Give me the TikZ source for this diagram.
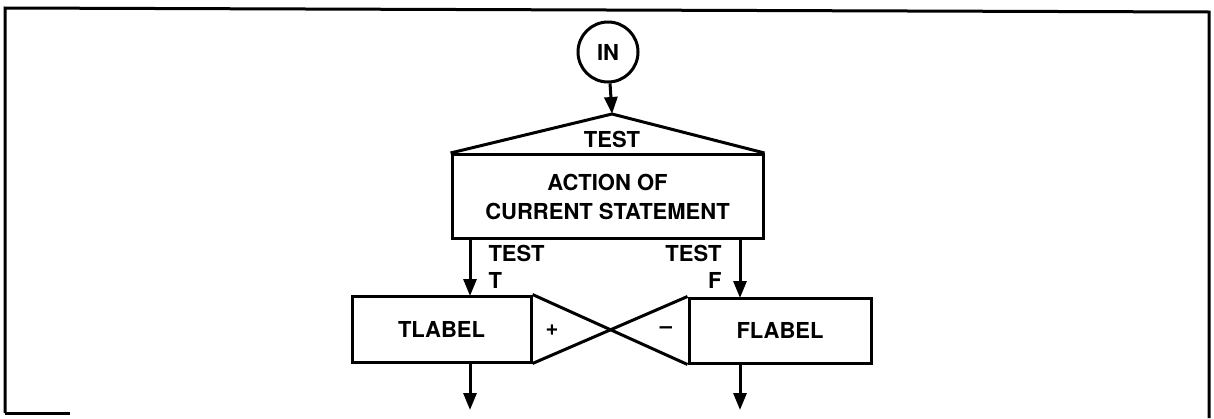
\documentclass[tikz,border=0pt]{standalone}
\usepackage{fontspec}
\setmainfont{TeX Gyre Heros}
\usetikzlibrary{arrows.meta}

\tikzset{
  lbl/.style={inner sep=0pt, font=\bfseries\fontsize{22}{29}\selectfont},
  box/.style={lbl, draw, rectangle, align=center},
  flow/.style={-{Triangle[length=17pt,width=13pt]}}
}

\begin{document}
\begin{tikzpicture}[x=1pt, y=-1pt, line width=3pt]
	\useasboundingbox (0,0) rectangle (1214,418);

	% frame
	\draw (5,413) -- (5,8) -- (1209,12) -- (1209,418);
	\draw (5,413) -- (70,413);

	% entry and test
	\node[lbl, circle, draw, minimum size=60pt] (in) at (608,52) {IN};
	\node[box, minimum width=311pt, minimum height=84pt] (action) at (607.5,196.5) {ACTION OF\\CURRENT STATEMENT};
	\coordinate (apex) at (612,114);
	\draw (action.north west) -- (apex) -- (action.north east);
	\node[lbl] (test) at (612,139) {TEST};
	\draw[flow] (in) -- (apex);

	% branch boxes
	\node[box, minimum width=179pt, minimum height=66pt] (tlabel) at (441.5,329) {TLABEL};
	\node[box, minimum width=182pt, minimum height=65pt] (flabel) at (780,330.5) {FLABEL};
	\draw (tlabel.north east) -- (flabel.south west); % crossing
	\draw (tlabel.south east) -- (flabel.north west);
	\node[lbl] (plus) at (552,330) {+};
	\node[lbl] (minus) at (666,330) {\textendash};

	% true branch
	\coordinate (tin) at (470,296);
	\coordinate (tout) at (470,410);
	\draw[flow] (action.south -| tin) -- (tin);
	\draw[flow] (tlabel.south -| tout) -- (tout);
	\node[lbl, anchor=west] (ttest) at (487,253) {TEST};
	\node[lbl, anchor=west] (tt) at (487,280) {T};

	% false branch
	\coordinate (fin) at (740,298);
	\coordinate (fout) at (740,410);
	\draw[flow] (action.south -| fin) -- (fin);
	\draw[flow] (flabel.south -| fout) -- (fout);
	\node[lbl, anchor=east] (ftest) at (723,253) {TEST};
	\node[lbl, anchor=east] (ff) at (723,280) {F};
\end{tikzpicture}
\end{document}
